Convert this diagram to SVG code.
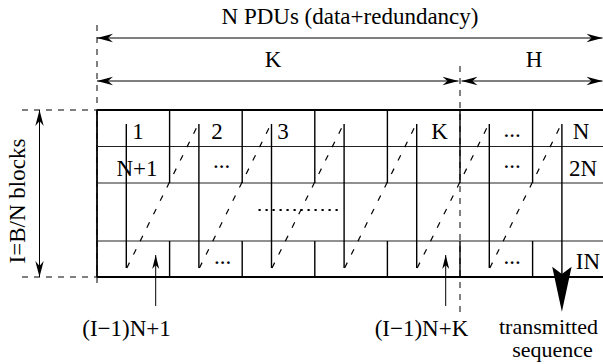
<svg xmlns="http://www.w3.org/2000/svg" width="603" height="364" viewBox="0 0 603 364">
<style>
text{font-family:"Liberation Serif","Times New Roman",serif;font-size:23px;fill:#000}
.m{text-anchor:middle}
.s{font-size:22px}
.thick{stroke:#000;stroke-width:1.8;fill:none}
.thin{stroke:#222;stroke-width:1.1;fill:none}
.col{stroke:#000;stroke-width:1.4;fill:none}
.dim{stroke:#000;stroke-width:1;fill:none}
.guide{stroke:#000;stroke-width:1;stroke-dasharray:6 6;fill:none}
.up{stroke:#000;stroke-width:1.4;fill:none}
.diag{stroke:#000;stroke-width:1.2;stroke-dasharray:6 9;fill:none}
</style>
<defs>
<marker id="ah" viewBox="-17 -5 18 10" markerWidth="18" markerHeight="10" refX="0" refY="0" markerUnits="userSpaceOnUse" orient="auto-start-reverse">
<path d="M0,0 L-16,-4.2 L-11,0 L-16,4.2 Z" fill="#000"/>
</marker>
<marker id="ahs" viewBox="-15 -5 16 10" markerWidth="16" markerHeight="10" refX="0" refY="0" markerUnits="userSpaceOnUse" orient="auto">
<path d="M0,0 L-14,-3.5 L-10,0 L-14,3.5 Z" fill="#000"/>
</marker>
</defs>

<g id="guides">
<line class="guide" x1="97" y1="25" x2="97" y2="285"/>
<line class="guide" x1="460" y1="66" x2="460" y2="312"/>
<line class="guide" x1="22" y1="110" x2="97" y2="110"/>
<line class="guide" x1="22" y1="277" x2="97" y2="277"/>
</g>

<g id="grid">
<line class="thick" x1="97" y1="110" x2="603" y2="110"/>
<line class="thick" x1="97" y1="277" x2="603" y2="277"/>
<line class="thick" x1="97" y1="110" x2="97" y2="277"/>
<line class="thin" x1="97" y1="146.5" x2="603" y2="146.5"/>
<line class="thin" x1="97" y1="183" x2="603" y2="183"/>
<line class="thin" x1="97" y1="241" x2="603" y2="241"/>
<path class="col" d="M169.6,110V183M169.6,241V277M242.2,110V183M242.2,241V277M314.8,110V183M314.8,241V277M387.4,110V183M387.4,241V277M460,110V183M460,241V277M532.6,110V183M532.6,241V277"/>
</g>

<g id="labels-top">
<text class="m" x="350" y="24">N PDUs (data+redundancy)</text>
<text class="m" x="273" y="67">K</text>
<text class="m" x="534" y="67">H</text>
</g>

<g id="cells">
<text class="m" x="138" y="139">1</text>
<text class="m" x="217" y="139">2</text>
<text class="m" x="283" y="139">3</text>
<text class="m" x="439.5" y="139">K</text>
<text class="m" x="512" y="137">...</text>
<text class="m" x="581" y="139">N</text>
<text class="m" x="137" y="176">N+1</text>
<text class="m" x="221.5" y="167.5">...</text>
<text class="m" x="512" y="167.5">...</text>
<text class="m" x="583" y="176">2N</text>
<text class="m" x="222.5" y="263.5">...</text>
<text class="m" x="512" y="263.5">...</text>
<text class="m" x="588" y="269">IN</text>
<line x1="258.5" y1="210" x2="342" y2="210" stroke="#000" stroke-width="2.2" stroke-dasharray="2.2 4.8"/>
</g>

<g id="connectors">
<line class="dim" x1="97" y1="38" x2="602.5" y2="38" marker-start="url(#ah)" marker-end="url(#ah)"/>
<line class="dim" x1="97" y1="81" x2="458.5" y2="81" marker-start="url(#ah)" marker-end="url(#ah)"/>
<line class="dim" x1="461.5" y1="81" x2="602.5" y2="81" marker-start="url(#ah)" marker-end="url(#ah)"/>
<line class="dim" x1="39.5" y1="110" x2="39.5" y2="277" marker-start="url(#ah)" marker-end="url(#ah)"/>
<path class="up" d="M126.3,124V268M198.9,124V268M271.5,124V268M344.1,124V268M416.7,124V268M489.3,124V268M561.9,124V275"/>
<path class="diag" d="M126.8,268L198.4,124M199.4,268L271,124M272,268L343.6,124M344.6,268L416.2,124M417.2,268L488.8,124M489.8,268L561.4,124"/>
<polygon points="552.2,266.7 561.9,311.7 571.6,266.7 561.9,274" fill="#000"/>
<line class="dim" x1="155.7" y1="306" x2="155.7" y2="255" marker-end="url(#ahs)"/>
<line class="dim" x1="445.7" y1="306" x2="445.7" y2="255" marker-end="url(#ahs)"/>
</g>

<g id="labels-bottom">
<text class="m" transform="translate(25,201) rotate(-90)">I=B/N blocks</text>
<text class="m" x="126.5" y="336">(I−1)N+1</text>
<text class="m" x="421.5" y="336">(I−1)N+K</text>
<text class="m s" x="548.5" y="334">transmitted</text>
<text class="m s" x="552.5" y="357">sequence</text>
</g>
</svg>
